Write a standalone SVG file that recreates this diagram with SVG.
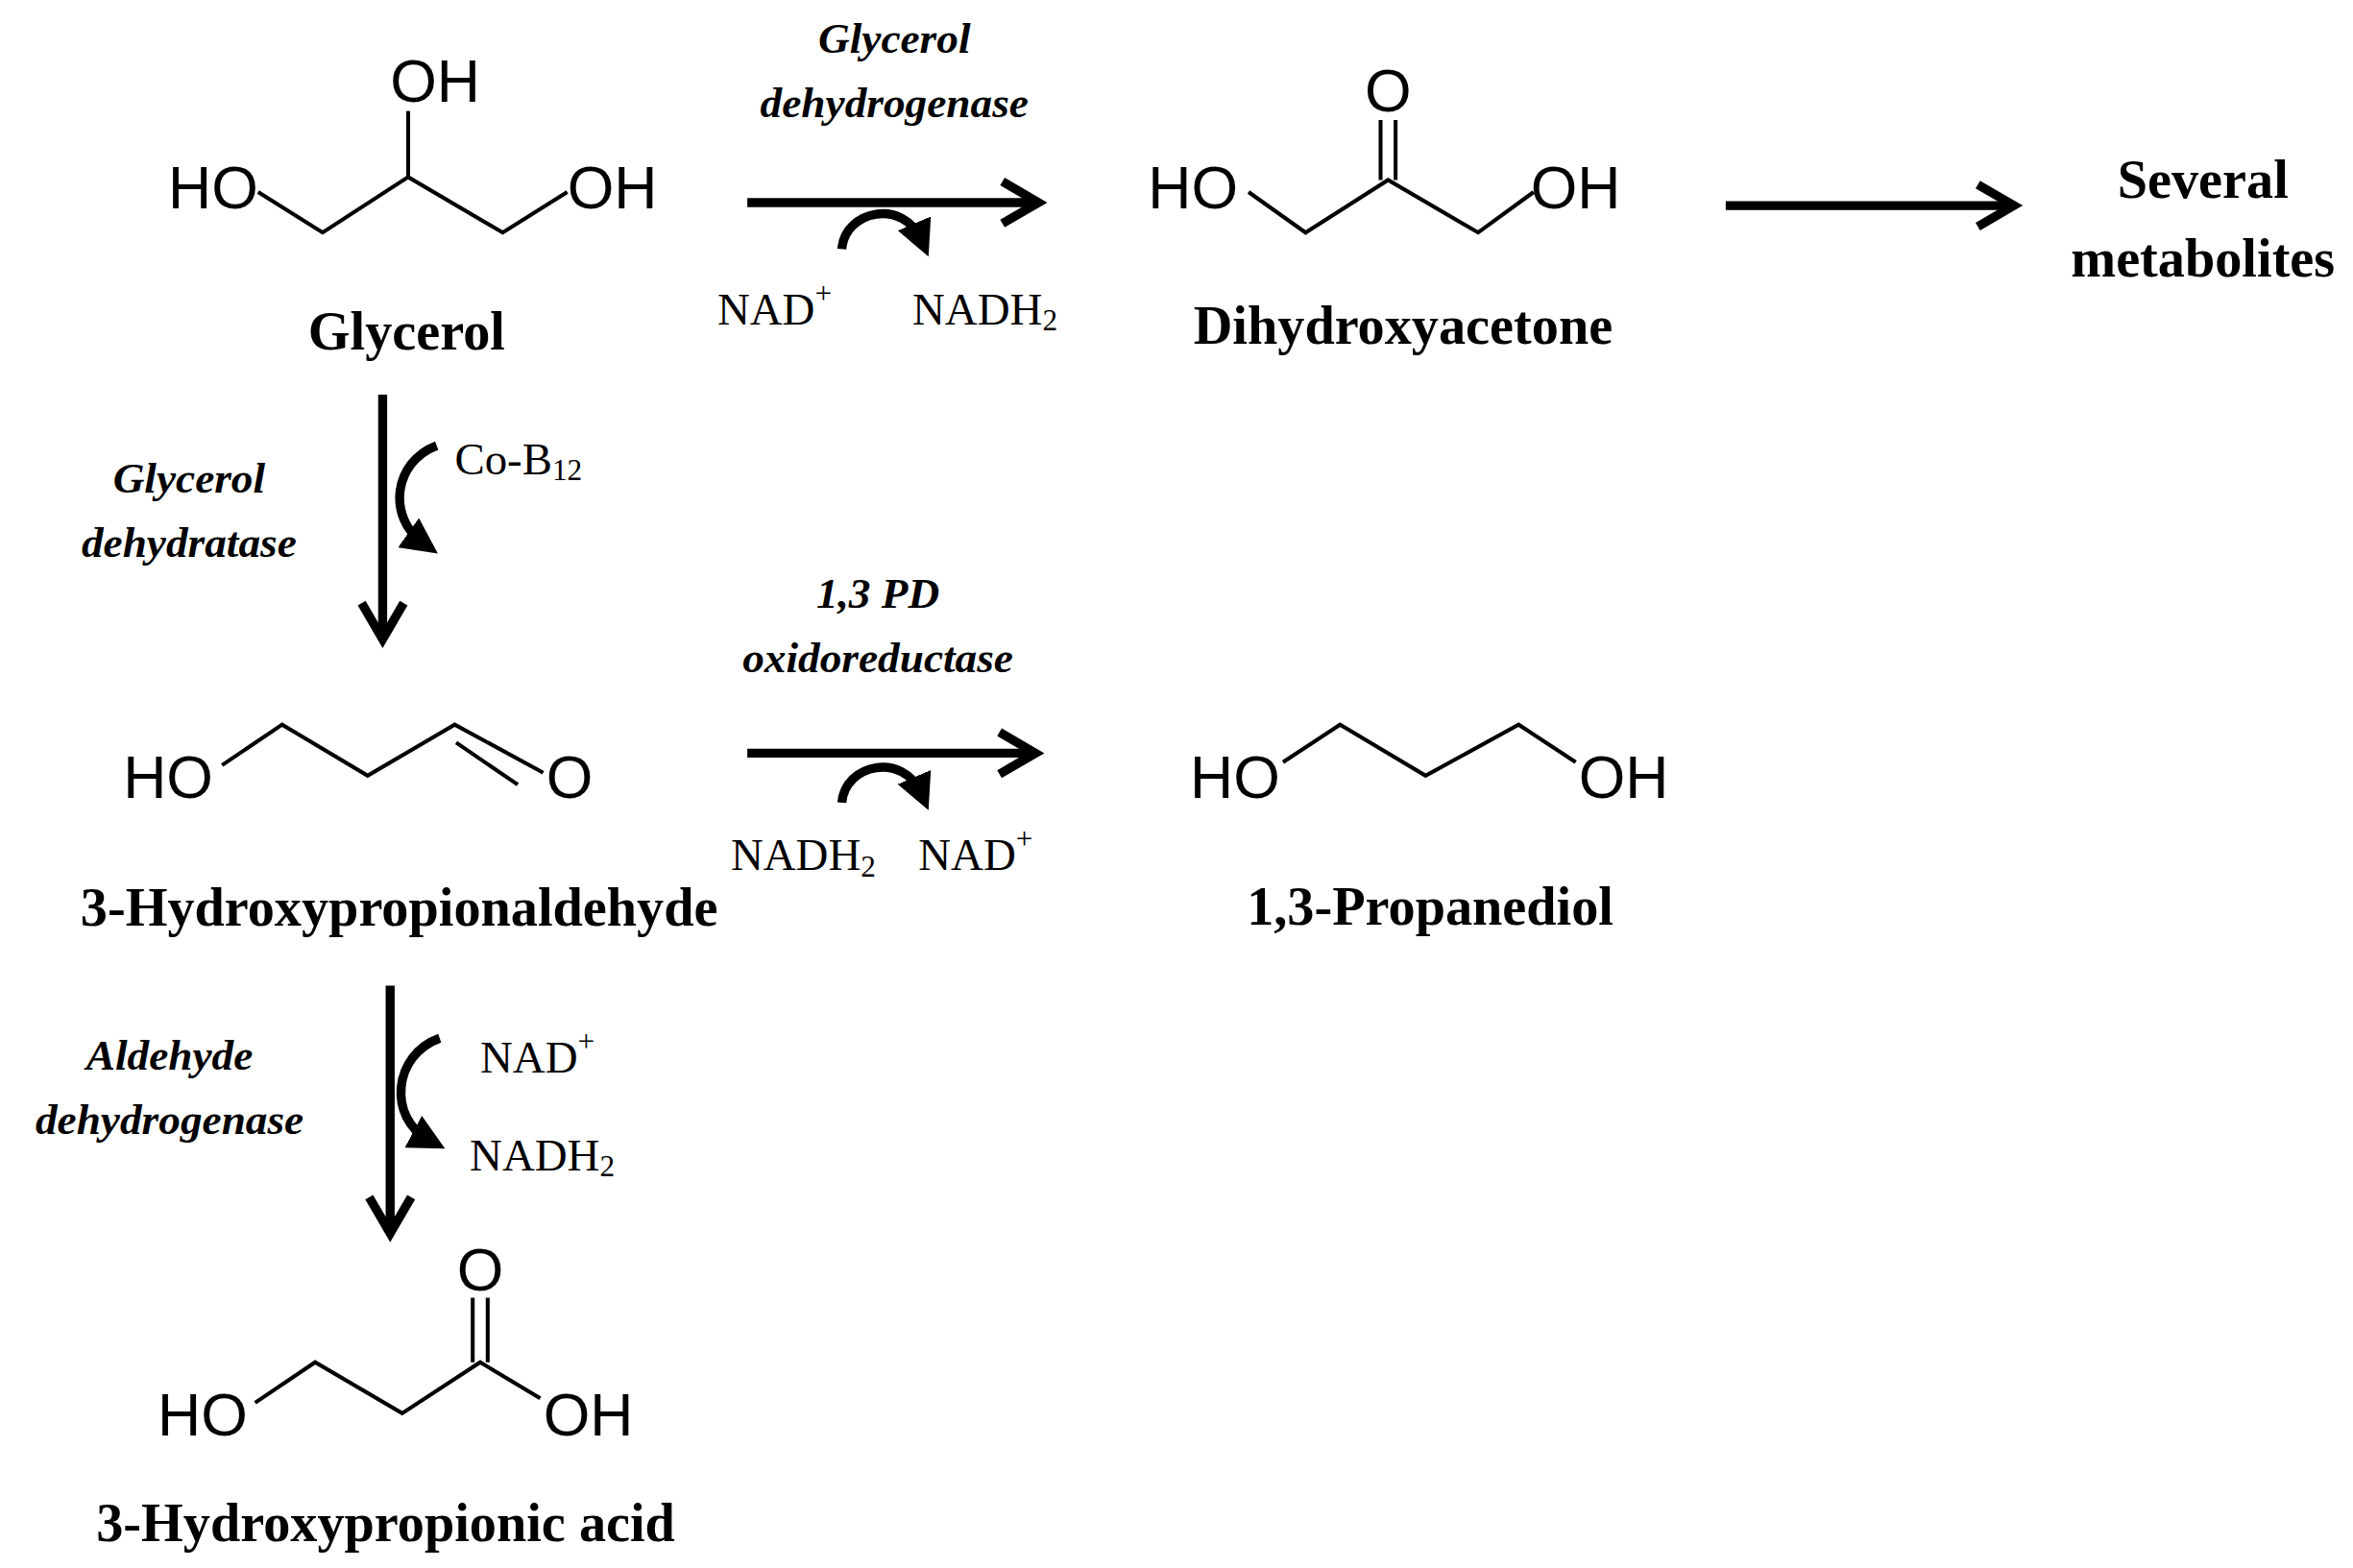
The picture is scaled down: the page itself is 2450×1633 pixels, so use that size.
<svg xmlns="http://www.w3.org/2000/svg" width="2450" height="1633" viewBox="0 0 2450 1633">
<style>
.b{fill:none;stroke:#000;stroke-width:2.6;stroke-linejoin:miter}
.a{font-family:"Liberation Sans",Arial,sans-serif;font-size:40px}
.n{font-family:"Liberation Serif","Times New Roman",serif;font-weight:bold;font-size:36px;text-anchor:middle}
.e{font-family:"Liberation Serif","Times New Roman",serif;font-weight:bold;font-style:italic;font-size:29px;text-anchor:middle}
.c{font-family:"Liberation Serif","Times New Roman",serif;font-size:30px}
.s{font-size:20px}
.ar{fill:none;stroke:#000;stroke-width:6}
.cv{fill:none;stroke:#000;stroke-width:6}
</style>
<defs>
<marker id="h" viewBox="0 0 10 10" refX="5" refY="5" markerWidth="4" markerHeight="4" orient="auto"><path d="M0,0L10,5L0,10z" fill="#000"/></marker>
</defs>
<rect width="2450" height="1633" fill="#fff"/>
<g transform="scale(1.5625)">
<g id="glycerol">
<text class="a" x="112" y="139">HO</text>
<text class="a" x="260" y="68">OH</text>
<text class="a" x="378" y="139">OH</text>
<polyline class="b" points="172,128 215,155 272,118 335,155 378,128"/>
<line class="b" x1="272" y1="118" x2="272" y2="74"/>
<text class="n" x="271" y="233">Glycerol</text>
</g>
<g id="dha">
<text class="a" x="765" y="139">HO</text>
<text class="a" x="1020" y="139">OH</text>
<text class="a" x="925" y="74" text-anchor="middle">O</text>
<polyline class="b" points="832,128 870,155 925,120 985,155 1022,128"/>
<line class="b" x1="920" y1="120" x2="920" y2="80"/>
<line class="b" x1="930" y1="120" x2="930" y2="80"/>
<text class="n" x="935" y="229">Dihydroxyacetone</text>
</g>
<g id="metabolites">
<text class="n" x="1468" y="132">Several</text>
<text class="n" x="1468" y="184">metabolites</text>
</g>
<g id="hpa">
<text class="a" x="82" y="532">HO</text>
<text class="a" x="364" y="532">O</text>
<polyline class="b" points="148,510 188,483 245,517 303,483 362,515"/>
<line class="b" x1="304" y1="495" x2="345" y2="523"/>
<text class="n" x="266" y="617">3-Hydroxypropionaldehyde</text>
</g>
<g id="pdo">
<text class="a" x="793" y="532">HO</text>
<text class="a" x="1052" y="532">OH</text>
<polyline class="b" points="855,508 893,483 950,517 1012,483 1050,508"/>
<text class="n" x="953" y="616">1,3-Propanediol</text>
</g>
<g id="hp_acid">
<text class="a" x="105" y="957">HO</text>
<text class="a" x="362" y="957">OH</text>
<text class="a" x="320" y="860" text-anchor="middle">O</text>
<polyline class="b" points="170,935 210,908 268,942 320,908 360,932"/>
<line class="b" x1="315" y1="908" x2="315" y2="865"/>
<line class="b" x1="325" y1="908" x2="325" y2="865"/>
<text class="n" x="257" y="1027">3-Hydroxypropionic acid</text>
</g>
<g id="connectors">
<line class="ar" x1="498" y1="135" x2="692" y2="135"/>
<polyline class="ar" points="668,121 692,135 668,149"/>
<path class="cv" d="M561,166 C563,140 602,132 614,160" marker-end="url(#h)"/>
<line class="ar" x1="1150" y1="137" x2="1342" y2="137"/>
<polyline class="ar" points="1318,123 1342,137 1318,151"/>
<line class="ar" x1="255" y1="263" x2="255" y2="426"/>
<polyline class="ar" points="241,402 255,426 269,402"/>
<path class="cv" d="M291,297 C262,308 258,345 282,362" marker-end="url(#h)"/>
<line class="ar" x1="498" y1="502" x2="690" y2="502"/>
<polyline class="ar" points="666,488 690,502 666,516"/>
<path class="cv" d="M561,535 C563,509 602,501 614,529" marker-end="url(#h)"/>
<line class="ar" x1="260" y1="657" x2="260" y2="822"/>
<polyline class="ar" points="246,798 260,822 274,798"/>
<path class="cv" d="M293,692 C262,703 258,745 286,760" marker-end="url(#h)"/>
</g>
<g id="labels">
<text class="e" x="596" y="35">Glycerol</text>
<text class="e" x="596" y="78">dehydrogenase</text>
<text class="c" x="478" y="216">NAD<tspan class="s" dy="-14">+</tspan></text>
<text class="c" x="608" y="216">NADH<tspan class="s" dy="4">2</tspan></text>
<text class="e" x="126" y="328">Glycerol</text>
<text class="e" x="126" y="371">dehydratase</text>
<text class="c" x="303" y="316">Co-B<tspan class="s" dy="4">12</tspan></text>
<text class="e" x="585" y="405">1,3 PD</text>
<text class="e" x="585" y="448">oxidoreductase</text>
<text class="c" x="487" y="580">NADH<tspan class="s" dy="4">2</tspan></text>
<text class="c" x="612" y="580">NAD<tspan class="s" dy="-14">+</tspan></text>
<text class="e" x="113" y="713">Aldehyde</text>
<text class="e" x="113" y="756">dehydrogenase</text>
<text class="c" x="320" y="715">NAD<tspan class="s" dy="-14">+</tspan></text>
<text class="c" x="313" y="780">NADH<tspan class="s" dy="4">2</tspan></text>
</g>
</g>
</svg>
